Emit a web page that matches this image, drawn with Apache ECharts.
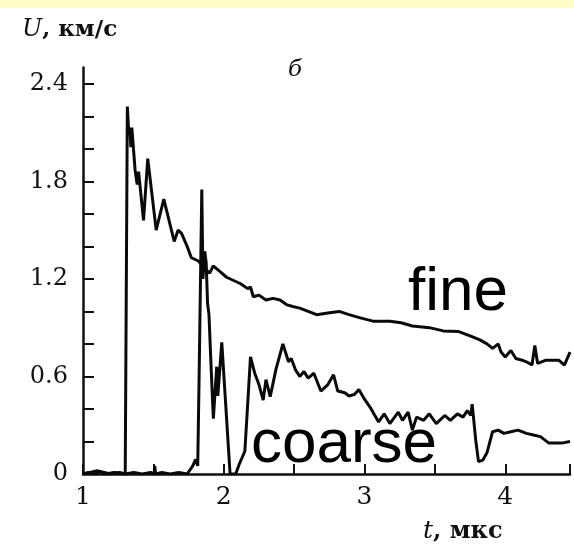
<!DOCTYPE html>
<html>
<head>
<meta charset="utf-8">
<script src="https://cdn.jsdelivr.net/npm/echarts@6/dist/echarts.min.js"></script>
<style>
  html, body { margin: 0; padding: 0; background: #ffffff; }
  #chart { width: 574px; height: 551px; }
</style>
</head>
<body>
<div id="chart"></div>
<script>
// Velocity traces U(t), km/s versus t, µs
const fineT = [1.00, 1.05, 1.10, 1.15, 1.20, 1.26, 1.30, 1.315, 1.325, 1.333, 1.34, 1.347, 1.37, 1.385, 1.395, 1.43, 1.46, 1.52, 1.574, 1.648, 1.676, 1.70, 1.74, 1.77, 1.82, 1.86, 1.90, 1.925, 1.98, 2.02, 2.07, 2.12, 2.17, 2.19, 2.21, 2.25, 2.30, 2.35, 2.40, 2.45, 2.49, 2.54, 2.60, 2.66, 2.74, 2.82, 2.89, 2.97, 3.06, 3.18, 3.26, 3.34, 3.46, 3.56, 3.67, 3.75, 3.82, 3.87, 3.91, 3.95, 3.97, 4.00, 4.04, 4.075, 4.12, 4.15, 4.19, 4.21, 4.23, 4.29, 4.38, 4.42, 4.46];
const fineU = [0.00, 0.01, 0.02, 0.01, 0.00, 0.01, 0.00, 2.26, 2.10, 2.13, 2.01, 2.13, 1.87, 1.78, 1.86, 1.56, 1.94, 1.50, 1.69, 1.43, 1.50, 1.48, 1.40, 1.33, 1.31, 1.27, 1.235, 1.28, 1.24, 1.21, 1.19, 1.17, 1.14, 1.15, 1.09, 1.10, 1.07, 1.08, 1.07, 1.04, 1.03, 1.02, 1.00, 0.98, 0.99, 1.00, 0.98, 0.96, 0.94, 0.94, 0.93, 0.91, 0.90, 0.88, 0.876, 0.85, 0.825, 0.80, 0.773, 0.80, 0.75, 0.72, 0.76, 0.71, 0.70, 0.69, 0.67, 0.79, 0.68, 0.70, 0.70, 0.67, 0.75];

const coarseT = [1.00, 1.04, 1.08, 1.12, 1.16, 1.22, 1.30, 1.36, 1.42, 1.48, 1.505, 1.51, 1.515, 1.56, 1.62, 1.68, 1.74, 1.78, 1.80, 1.815, 1.825, 1.844, 1.852, 1.865, 1.875, 1.885, 1.895, 1.91, 1.926, 1.95, 1.958, 1.986, 2.045, 2.085, 2.11, 2.15, 2.19, 2.22, 2.25, 2.28, 2.30, 2.33, 2.37, 2.42, 2.46, 2.48, 2.51, 2.54, 2.57, 2.60, 2.64, 2.69, 2.74, 2.78, 2.81, 2.86, 2.89, 2.93, 2.96, 3.00, 3.04, 3.10, 3.14, 3.18, 3.24, 3.27, 3.31, 3.34, 3.37, 3.42, 3.46, 3.51, 3.57, 3.61, 3.66, 3.70, 3.73, 3.755, 3.765, 3.79, 3.81, 3.84, 3.87, 3.91, 3.95, 3.99, 4.04, 4.09, 4.15, 4.20, 4.25, 4.31, 4.34, 4.40, 4.46];
const coarseU = [0.00, 0.01, 0.00, 0.015, 0.00, 0.01, 0.00, 0.01, 0.00, 0.01, 0.00, 0.05, 0.00, 0.01, 0.00, 0.01, 0.00, 0.05, 0.09, 0.05, 0.60, 1.75, 1.20, 1.37, 1.30, 1.05, 0.98, 0.66, 0.34, 0.66, 0.48, 0.81, 0.00, 0.00, 0.06, 0.14, 0.72, 0.62, 0.55, 0.455, 0.58, 0.476, 0.64, 0.80, 0.69, 0.71, 0.64, 0.60, 0.63, 0.59, 0.62, 0.51, 0.55, 0.61, 0.51, 0.50, 0.48, 0.49, 0.52, 0.46, 0.41, 0.32, 0.37, 0.31, 0.38, 0.33, 0.38, 0.27, 0.35, 0.33, 0.37, 0.31, 0.36, 0.33, 0.37, 0.35, 0.39, 0.36, 0.43, 0.21, 0.076, 0.085, 0.13, 0.26, 0.27, 0.25, 0.26, 0.27, 0.25, 0.24, 0.23, 0.19, 0.19, 0.19, 0.20];

// Axis ranges and tick positions
const tMin = 1, tMax = 4.46;
const uMin = 0, uMax = 2.5;
const tTicks = [1, 1.5, 2, 2.5, 3, 3.5, 4, 4.46];
const tLabels = [1, 2, 3, 4];
const uTicks = [0, 0.2, 0.4, 0.6, 0.8, 1.0, 1.2, 1.4, 1.6, 1.8, 2.0, 2.2, 2.4];
const uLabels = [0, 0.6, 1.2, 1.8, 2.4];

const zip = (a, b) => a.map((v, i) => [v, b[i]]);

const serif = '"DejaVu Serif", "Liberation Serif", serif';
const sans = '"Liberation Sans", Arial, sans-serif';

const chart = echarts.init(document.getElementById('chart'), null, { renderer: 'canvas' });

chart.setOption({
  backgroundColor: '#ffffff',
  animation: false,
  grid: { left: 83, right: 4, top: 67.5, bottom: 77, containLabel: false },
  xAxis: {
    type: 'value', min: tMin, max: tMax,
    axisLine: { onZero: false, lineStyle: { color: '#111', width: 2.5 } },
    axisTick: { inside: true, length: 10, customValues: tTicks, lineStyle: { color: '#111', width: 2 } },
    axisLabel: { customValues: tLabels, margin: 11, color: '#111', fontFamily: serif, fontSize: 25 },
    splitLine: { show: false }
  },
  yAxis: {
    type: 'value', min: uMin, max: uMax,
    axisLine: { show: true, onZero: false, lineStyle: { color: '#111', width: 2.5 } },
    axisTick: { show: true, inside: true, length: 11, customValues: uTicks, lineStyle: { color: '#111', width: 2 } },
    axisLabel: {
      customValues: uLabels, margin: 15, color: '#111', fontFamily: serif, fontSize: 24,
      formatter: v => (v === 0 ? '0' : v.toFixed(1))
    },
    splitLine: { show: false }
  },
  series: [
    {
      name: 'fine', type: 'line', data: zip(fineT, fineU),
      showSymbol: false, lineStyle: { color: '#0a0a0a', width: 3 }, z: 3
    },
    {
      name: 'coarse', type: 'line', data: zip(coarseT, coarseU),
      showSymbol: false, lineStyle: { color: '#0a0a0a', width: 3 }, z: 3
    }
  ],
  graphic: [
    { type: 'rect', left: 0, top: 0, shape: { width: 574, height: 8 }, style: { fill: '#fffecb' } },
    {
      type: 'text', left: 22, top: 18,
      style: {
        text: '{i|U}{b|, км/с}',
        rich: {
          i: { fontFamily: serif, fontStyle: 'italic', fontSize: 24, fill: '#111' },
          b: { fontFamily: serif, fontWeight: 'bold', fontSize: 23, fill: '#111' }
        }
      }
    },
    { type: 'text', left: 288, top: 59, style: { text: 'б', fontFamily: serif, fontStyle: 'italic', fontSize: 23, fill: '#111' } },
    {
      type: 'text', left: 423, top: 519,
      style: {
        text: '{i|t}{b|, мкс}',
        rich: {
          i: { fontFamily: serif, fontStyle: 'italic', fontSize: 25, fill: '#111' },
          b: { fontFamily: serif, fontWeight: 'bold', fontSize: 24, fill: '#111' }
        }
      }
    },
    { type: 'text', left: 408, top: 262, z: 10, style: { text: 'fine', fontFamily: sans, fontSize: 62, fill: '#000' } },
    { type: 'text', left: 251, top: 414, z: 10, style: { text: 'coarse', fontFamily: sans, fontSize: 62, fill: '#000' } }
  ]
});
</script>
</body>
</html>
